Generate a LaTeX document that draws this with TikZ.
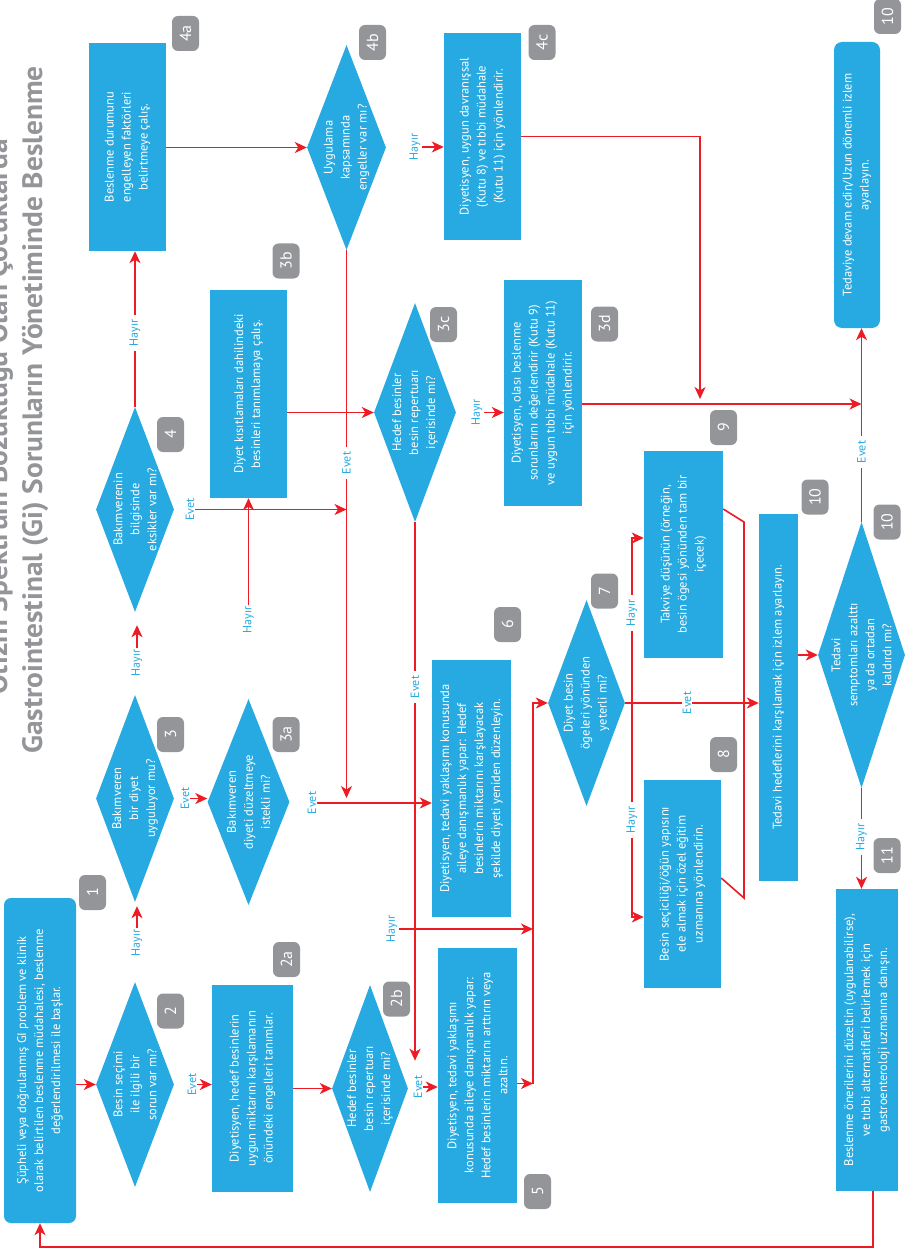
\documentclass[tikz,border=0pt]{standalone}
\usepackage{fontspec}
\setmainfont{PT Sans}
\usetikzlibrary{arrows.meta,shapes.geometric,backgrounds}
\definecolor{fblue}{HTML}{27AAE1}
\definecolor{fred}{HTML}{ED1C24}
\definecolor{fgray}{HTML}{939598}
\newcommand\bxfont{\fontsize{12.5}{17}\selectfont}
\newcommand\lbfont{\fontsize{12}{14}\selectfont}
\newcommand\bdgfont{\fontsize{16}{18}\selectfont}
\newcommand\ttlfont{\fontsize{28}{32}\bfseries\selectfont}
\tikzset{
  box/.style={rectangle, fill=fblue, text=white, rotate=90, align=center, inner sep=0pt, font=\bxfont},
  dia/.style={diamond, fill=fblue, rotate=90, inner sep=0pt},
  dtxt/.style={rotate=90, text=white, align=center, inner sep=0pt, font=\bxfont},
  badge/.style={rectangle, rounded corners=6pt, fill=fgray, text=white, rotate=90, minimum width=35pt, minimum height=27pt, inner sep=0pt, font=\bdgfont},
  lbl/.style={rotate=90, text=fblue, font=\lbfont, inner sep=1pt},
  lblw/.style={lbl, fill=white, inner xsep=5pt},
  line/.style={draw=fred, line width=1.6pt},
  arr/.style={line, -{Stealth[length=12pt,width=11pt,inset=3.5pt]}}
}
\begin{document}
\begin{tikzpicture}[x=1pt,y=-1pt]
\useasboundingbox (0,0) rectangle (907,1249);
\clip (0,0) rectangle (907,1249);

% title
\node[rotate=90, anchor=base, text=fgray, font=\ttlfont] (t1) at (7,417) {\scalebox{1.05}[1]{Otizm Spektrum Bozukluğu Olan Çocuklarda}};
\node[rotate=90, anchor=base, text=fgray, font=\ttlfont] (t2) at (42,410) {\scalebox{1.05}[1]{Gastrointestinal (Gi) Sorunların Yönetiminde Beslenme}};

% boxes and decisions
\node[box, rounded corners=7pt, minimum width=325pt, minimum height=72pt] (b1) at (40,1060.5) {Şüpheli veya doğrulanmış GI problem ve klinik\\olarak belirtilen beslenme müdahalesi, beslenme\\değerlendirilmesi ile başlar.};
\node[dia, minimum width=205pt, minimum height=78pt] (d2) at (135,1084.5) {};
\node[dtxt] at (d2) {Besin seçimi\\ile ilgili bir\\sorun var mı?};
\node[box, minimum width=207pt, minimum height=81pt] (b2a) at (252.5,1088.5) {Diyetisyen, hedef besinlerin\\uygun miktarını karşılamanın\\önündeki engelleri tanımlar.};
\node[dia, minimum width=207pt, minimum height=76pt] (d2b) at (370,1088.5) {};
\node[dtxt] at (d2b) {Hedef besinler\\besin repertuarı\\içerisinde mi?};
\node[box, minimum width=255pt, minimum height=79pt] (b5) at (477.5,1075.5) {Diyetisyen, tedavi yaklaşımı\\konusunda aileye danışmanlık yapar:\\Hedef besinlerin miktarını arttırın veya\\azaltın.};
\node[dia, minimum width=207pt, minimum height=78pt] (d3) at (135,798.5) {};
\node[dtxt] at (d3) {Bakımveren\\bir diyet\\uyguluyor mu?};
\node[dia, minimum width=206pt, minimum height=82pt] (d3a) at (248.5,802) {};
\node[dtxt] at (d3a) {Bakımveren\\diyeti düzeltmeye\\istekli mi?};
\node[box, minimum width=257pt, minimum height=79pt] (b6) at (471.5,788.5) {Diyetisyen, tedavi yaklaşımı konusunda\\aileye danışmanlık yapar: Hedef\\besinlerin miktarını karşılayacak\\şekilde diyeti yeniden düzenleyin.};
\node[dia, minimum width=205pt, minimum height=78pt] (d4) at (135,509.5) {};
\node[dtxt] at (d4) {Bakımverenin\\bilgisinde\\eksikler var mı?};
\node[box, minimum width=208pt, minimum height=77pt] (b3b) at (248.5,394) {Diyet kısıtlamaları dahilindeki\\besinleri tanımlamaya çalış.};
\node[dia, minimum width=219pt, minimum height=82pt] (d3c) at (415,412.5) {};
\node[dtxt] at (d3c) {Hedef besinler\\besin repertuarı\\içerisinde mi?};
\node[box, minimum width=226pt, minimum height=78pt] (b3d) at (543,393) {Diyetisyen, olası beslenme\\sorunlarını değerlendirir (Kutu 9)\\ve uygun tıbbi müdahale (Kutu 11)\\için yönlendirir.};
\node[box, minimum width=208pt, minimum height=77pt] (b4a) at (127.5,147) {Beslenme durumunu\\engelleyen faktörleri\\belirtmeye çalış.};
\node[dia, minimum width=205pt, minimum height=79pt] (d4b) at (346.5,147.5) {};
\node[dtxt] at (d4b) {Uygulama\\kapsamında\\engeller var mı?};
\node[box, minimum width=207pt, minimum height=77pt] (b4c) at (482.5,136.5) {Diyetisyen, uygun davranışsal\\(Kutu 8) ve tıbbi müdahale\\(Kutu 11) için yönlendirir.};
\node[dia, minimum width=206pt, minimum height=77pt] (d7) at (586.5,703) {};
\node[dtxt] at (d7) {Diyet besin\\ögeleri yönünden\\yeterli mi?};
\node[box, minimum width=207pt, minimum height=79pt] (b9) at (683.5,554.5) {Takviye düşünün (örneğin,\\besin ögesi yönünden tam bir\\içecek)};
\node[box, minimum width=208pt, minimum height=77pt] (b8) at (682.5,884) {Besin seçiciliği/öğün yapısını\\ele almak için özel eğitim\\uzmanına yönlendirin.};
\node[box, minimum width=367pt, minimum height=39pt] (bth) at (778.5,697.5) {Tedavi hedeflerini karşılamak için izlem ayarlayın.};
\node[dia, minimum width=266pt, minimum height=87pt] (d10) at (861.5,655) {};
\node[dtxt] at (d10) {Tedavi\\semptomları azalttı\\ya da ortadan\\kaldırdı mı?};
\node[box, rounded corners=8pt, minimum width=286pt, minimum height=46pt] (btd) at (857,185) {Tedaviye devam edin/Uzun dönemli izlem\\ayarlayın.};
\node[box, minimum width=302pt, minimum height=62pt] (b11) at (867,1040) {Beslenme önerilerini düzeltin (uygulanabilirse),\\ve tıbbi alternatifleri belirlemek için\\gastroenteroloji uzmanına danışın.};

% badges
\node[badge] (n4a) at (185.5,33.5) {4a};
\node[badge] (n4b) at (372.5,42.5) {4b};
\node[badge] (n4c) at (542,42.5) {4c};
\node[badge] (n10a) at (887.5,16.5) {10};
\node[badge] (n3b) at (286,261) {3b};
\node[badge] (n3c) at (443.5,324.5) {3c};
\node[badge] (n3d) at (604.5,324) {3d};
\node[badge] (n4) at (170.5,434.5) {4};
\node[badge] (n9) at (723.5,427.5) {9};
\node[badge] (n10b) at (815,497) {10};
\node[badge] (n10c) at (887,522) {10};
\node[badge] (n6) at (507.5,624.5) {6};
\node[badge] (n7) at (604.5,591) {7};
\node[badge] (n3) at (170.5,734.5) {3};
\node[badge] (n3a) at (286,734.5) {3a};
\node[badge] (n8) at (723.5,754.5) {8};
\node[badge] (n11) at (887,855.5) {11};
\node[badge] (n1) at (92.5,892.5) {1};
\node[badge] (n2a) at (286.5,959.5) {2a};
\node[badge] (n2b) at (396.5,999) {2b};
\node[badge] (n2) at (170.5,1011) {2};
\node[badge] (n5) at (537.5,1191.5) {5};

% end labels
\node[lbl] (le2) at (192,1084.5) {Evet};
\node[lbl] (lh2) at (137,943) {Hayır};
\node[lbl] (lh3) at (137,663) {Hayır};
\node[lbl] (le3) at (185,798.5) {Evet};
\node[lbl] (le4) at (190,509.5) {Evet};
\node[lbl] (lh3a) at (248.5,620) {Hayır};
\node[lbl] (le3a) at (312,803) {Evet};
\node[lbl] (lh4b) at (415,147) {Hayır};
\node[lbl] (lh3c) at (477,412.5) {Hayır};
\node[lbl] (le2b) at (418,1087) {Evet};
\node[lbl] (lh2b) at (392,929) {Hayır};

% labels sitting on lines
\node[lblw] (lh4) at (135,333) {Hayır};
\node[lblw] (le4b) at (346.5,463) {Evet};
\node[lblw] (le3c) at (415,687) {Evet};
\node[lblw] (le7) at (687,703) {Evet};
\node[lblw] (lh7a) at (632,613) {Hayır};
\node[lblw] (lh7b) at (632,820) {Hayır};
\node[lblw] (le10) at (861.5,452) {Evet};
\node[lblw] (lh10) at (861.5,837) {Hayır};

\coordinate (j7) at (533,1083.5);
\coordinate (h7) at (632,703);
\coordinate (m9) at (700,404);
\coordinate (k1) at (744,522);
\coordinate (k2) at (744,898);

\begin{pgfonlayer}{background}
\draw[arr] (b1.south |- d2.center) -- (d2.north);
\draw[arr] (le2.south) -- (b2a.north |- le2.south);
\draw[arr,shorten >=4pt] (lh2.east) -- (lh2.east |- d3.west);
\draw[arr,shorten >=13pt] (lh3.east) -- (lh3.east |- d4.west);
\draw[arr] (d4.east) -- (d4.east |- b4a.west);
\draw[arr] (le4.south) -- (d4b.west |- le4.south);
\draw[arr] (le3.south) -- (d3a.north |- le3.south);
\draw[arr] (le3a.south) -- (b6.north |- le3a.south);
\draw[arr] (lh3a.east) -- (lh3a.east |- b3b.west);
\draw[arr] (b3b.south |- d3c.center) -- (d3c.north);
\draw[arr] (lh3c.south) -- (b3d.north |- lh3c.south);
\draw[arr,shorten >=14pt] (d3c.west) -- (d3c.west |- le2b.east);
\draw[arr] (lh2b.south) -- (lh2b.south -| j7);
\draw[arr] (b2a.south |- d2b.center) -- (d2b.north);
\draw[arr] (le2b.south) -- (b5.north |- le2b.south);
\draw[arr] (b5.south |- j7) -- (j7);
\draw[arr] (j7) |- (d7.north);
\draw[arr] (d7.south) -- (bth.north |- d7.south);
\draw[arr] (h7) |- ([yshift=16.5pt]b9.north);
\draw[arr] (h7) |- ([yshift=-33pt]b8.north);
\draw[line] ([yshift=45.5pt]b9.south) -- (k1) -- (k2) -- ([yshift=6pt]b8.south);
\draw[arr] (bth.south |- d10.center) -- (d10.north);
\draw[arr] (d10.east) -- (d10.east |- btd.west);
\draw[arr] ([yshift=-11pt]b3d.south) -- ([yshift=-11pt]b3d.south -| d10.east);
\draw[arr,shorten >=5pt] (b4c.south) -| (m9);
\draw[arr] (d10.west) -- (d10.west |- b11.east);
\draw[arr] ([xshift=6pt]b11.west) -- ++(0,56) -| (b1.west);
\draw[arr] (b4a.south |- d4b.center) -- (d4b.north);
\draw[arr] (lh4b.south) -- (b4c.north |- lh4b.south);
\draw[arr,shorten >=5pt] (d4b.west) -- (d4b.west |- le3a.center);
\end{pgfonlayer}
\end{tikzpicture}
\end{document}
